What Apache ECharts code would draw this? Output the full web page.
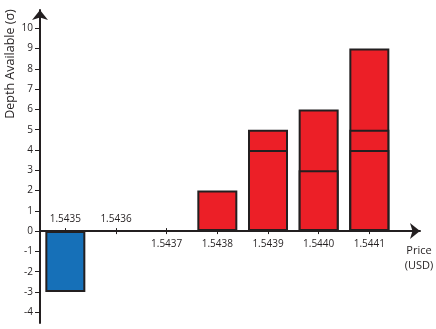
<!DOCTYPE html>
<html>
<head>
<meta charset="utf-8">
<script src="https://cdn.jsdelivr.net/npm/echarts@6/dist/echarts.min.js"></script>
<style>html,body{margin:0;padding:0;background:#fff;}#c{width:436px;height:329px;}</style>
</head>
<body>
<div id="c"></div>
<script>
const categories = ['1.5435', '1.5436', '1.5437', '1.5438', '1.5439', '1.5440', '1.5441'];
const labelsAbove = [0, 1];
const labelsBelow = [2, 3, 4, 5, 6];
const yTicks = [-4, -3, -2, -1, 0, 1, 2, 3, 4, 5, 6, 7, 8, 9, 10];
const bidDepth = [-3, null, null, null, null, null, null];
const askLayer1 = [null, null, null, 2, 4, 3, 4];
const askLayer2 = [null, null, null, null, 1, 3, 1];
const askLayer3 = [null, null, null, null, null, null, 4];
const yName = 'Depth Available (σ)';
const xName = 'Price\n(USD)';

const ink = '#231f20';
const font = 'Open Sans';
const catIdx = categories.map((c, i) => i);

// stack the ask layers: each overlay bar reaches the top of its layer
const addLayer = (base, layer) => layer.map((v, i) => (v == null ? null : (base[i] || 0) + v));
const askTop1 = askLayer1.slice();
const askTop2 = addLayer(askTop1, askLayer2);
const askTop3 = addLayer(askTop2, askLayer3);
const clean = arr => arr.map(v => (v == null ? '-' : v));

const X_MIN = -0.5, X_MAX = 7.0;
const Y_MIN = -4.53, Y_MAX = 10.9;
const LEFT = 40, RIGHT = 16, TOP = 10, BOTTOM = 6;
const CHART_W = 436, CHART_H = 329;
const unit = (CHART_W - LEFT - RIGHT) / (X_MAX - X_MIN);
const barGridRight = CHART_W - LEFT - unit * categories.length;
const plotH = CHART_H - TOP - BOTTOM;
// distance from the bottom of the grid up to the y = 0 line
const zeroOffset = plotH * (0 - Y_MIN) / (Y_MAX - Y_MIN);

const xBase = { type: 'value', gridIndex: 0, min: X_MIN, max: X_MAX, splitLine: { show: false }, position: 'bottom', offset: -zeroOffset };
const barStyle = (color) => ({ color: color, borderColor: ink, borderWidth: 2 });
const barSeries = (data, color) => ({ type: 'bar', xAxisIndex: 2, yAxisIndex: 1, barWidth: 40, barGap: '-100%', data: clean(data), itemStyle: barStyle(color) });

const option = {
  animation: false,
  grid: [
    { left: LEFT, right: RIGHT, top: TOP, bottom: BOTTOM, containLabel: false, outerBoundsMode: 'none' },
    { left: LEFT, right: barGridRight, top: TOP, bottom: BOTTOM, containLabel: false, outerBoundsMode: 'none' }
  ],
  xAxis: [
    Object.assign({}, xBase, {
      axisLine: { show: true, onZero: false, symbol: ['none', 'arrow'], symbolSize: [12, 10], lineStyle: { color: ink, width: 2 } },
      axisTick: { show: true, inside: false, length: 3, customValues: catIdx, lineStyle: { color: ink, width: 1 } },
      axisLabel: { show: true, inside: false, margin: 8, customValues: labelsBelow, formatter: v => categories[Math.round(v)], color: ink, fontFamily: font, fontSize: 10 }
    }),
    Object.assign({}, xBase, {
      axisLine: { show: true, onZero: false, symbol: 'none', lineStyle: { color: ink, width: 2, opacity: 0 } },
      axisTick: { show: true, inside: true, length: 3, customValues: catIdx, lineStyle: { color: ink, width: 1 } },
      axisLabel: { show: true, inside: true, margin: 7, customValues: labelsAbove, formatter: v => categories[Math.round(v)], color: ink, fontFamily: font, fontSize: 10 }
    }),
    { type: 'category', gridIndex: 1, data: categories, show: false }
  ],
  yAxis: [
    {
      type: 'value', gridIndex: 0, min: Y_MIN, max: Y_MAX, splitLine: { show: false },
      axisLine: { show: true, onZero: false, symbol: ['none', 'arrow'], symbolSize: [12, 10], lineStyle: { color: ink, width: 2 } },
      axisTick: { show: true, length: 5, customValues: yTicks, lineStyle: { color: ink, width: 1 } },
      axisLabel: { show: true, margin: 7, customValues: yTicks, color: ink, fontFamily: font, fontSize: 10 }
    },
    { type: 'value', gridIndex: 1, min: Y_MIN, max: Y_MAX, show: false, splitLine: { show: false } }
  ],
  graphic: [
    { type: 'text', x: 10, y: 64, rotation: Math.PI / 2, style: { text: yName, fill: ink, font: '12.5px "Open Sans"', align: 'center', verticalAlign: 'middle' } },
    { type: 'text', x: 419, y: 243, style: { text: xName, fill: ink, font: '11px "Open Sans"', align: 'center', verticalAlign: 'top', lineHeight: 15 } }
  ],
  series: [
    barSeries(askTop3, '#ec1f27'),
    barSeries(askTop2, '#ec1f27'),
    barSeries(askTop1, '#ec1f27'),
    barSeries(bidDepth, '#1670b8')
  ]
};
echarts.init(document.getElementById('c'), null, { renderer: 'canvas' }).setOption(option);
</script>
</body>
</html>
